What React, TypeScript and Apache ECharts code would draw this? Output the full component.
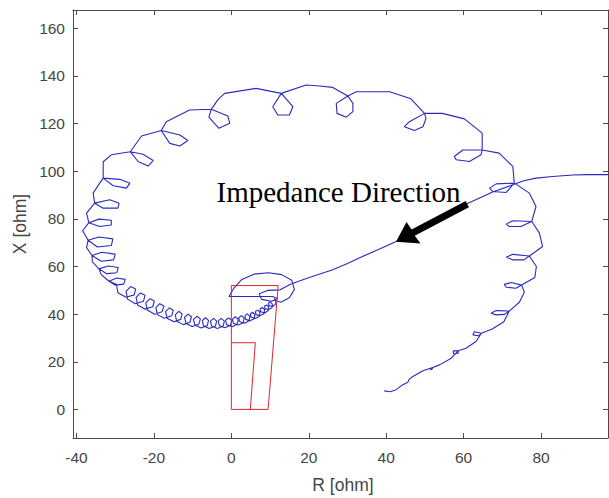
import React, { useEffect, useRef } from "react";
import * as echarts from "echarts";

// Tick positions on the resistance (R) and reactance (X) axes
const rTickValues = [-40, -20, 0, 20, 40, 60, 80];
const xTickValues = [0, 20, 40, 60, 80, 100, 120, 140, 160];

// Impedance locus [R, X] in ohm, split into stretches of the trajectory
const entryPath: number[][] = [
  [97.4, 98.6], [92.0, 98.6], [88.2, 98.4], [83.0, 97.8], [78.7, 97.1], [75.5, 96.0],
  [72.7, 94.3], [67.5, 91.3], [61.3, 86.7], [56.0, 82.4], [51.5, 78.5], [46.8, 74.4],
  [42.6, 70.5], [38.0, 67.1], [34.0, 64.3], [30.0, 61.3], [26.2, 58.6], [20.5, 55.6],
  [15.4, 52.7],
];

const coreSwirl: number[][] = [
  [12.6, 50.2], [9.5, 50.0], [7.2, 48.6], [7.8, 46.2], [10.4, 45.4], [12.0, 46.6],
  [10.6, 47.4], [-0.6, 47.4], [0.6, 50.8], [2.6, 54.4], [5.8, 56.8], [9.6, 57.4],
  [13.0, 56.6], [15.6, 54.2], [16.3, 50.4], [15.0, 46.9], [12.8, 45.0], [11.4, 45.6],
];

const innerCoil: number[][] = [
  [11.0, 46.5], [11.6, 45.6], [11.4, 44.1], [10.6, 43.2], [9.7, 43.6], [9.6, 44.7],
  [10.1, 45.1], [10.6, 44.2], [10.5, 42.7], [9.6, 41.9], [8.7, 42.3], [8.6, 43.4],
  [9.1, 43.9], [9.7, 43.0], [9.5, 41.4], [8.6, 40.5], [7.6, 41.0], [7.4, 42.2],
  [8.0, 42.8], [8.6, 41.9], [8.4, 40.2], [7.4, 39.3], [6.4, 39.8], [6.2, 41.1],
  [6.8, 41.7], [7.4, 40.8], [7.2, 39.1], [6.2, 38.2], [5.1, 38.8], [4.9, 40.1],
  [5.5, 40.8], [6.1, 39.9], [5.9, 38.1], [4.8, 37.2], [3.7, 37.8], [3.5, 39.3],
  [4.1, 40.1], [4.8, 39.1], [4.6, 37.2], [3.4, 36.2], [2.1, 36.9], [1.9, 38.5],
  [2.6, 39.4], [3.3, 38.3], [3.1, 36.4], [1.8, 35.4], [0.5, 36.2], [0.3, 37.9],
  [1.0, 38.9], [1.8, 37.8], [1.5, 35.8], [0.2, 34.7], [-1.2, 35.6], [-1.5, 37.5],
  [-0.7, 38.4], [0.1, 37.4], [-0.2, 35.3], [-1.7, 34.3], [-3.1, 35.2], [-3.4, 37.2],
  [-2.6, 38.2], [-1.8, 37.1], [-2.1, 35.0], [-3.6, 34.0], [-5.1, 35.0], [-5.4, 37.1],
  [-4.6, 38.2], [-3.8, 37.1], [-4.1, 35.0], [-5.7, 34.0], [-7.2, 35.1], [-7.5, 37.3],
  [-6.7, 38.5], [-5.9, 37.4], [-6.2, 35.2], [-7.8, 34.2], [-9.4, 35.4], [-9.8, 37.8],
  [-8.9, 39.1], [-8.0, 38.0], [-8.4, 35.8], [-10.1, 34.8], [-11.7, 36.1], [-12.1, 38.6],
  [-11.2, 40.0], [-10.3, 38.9], [-10.7, 36.6], [-12.4, 35.6], [-14.1, 37.0], [-14.5, 39.7],
  [-13.6, 41.2], [-12.7, 40.1], [-13.1, 37.8], [-14.8, 36.8], [-16.6, 38.3], [-17.0, 41.1],
  [-16.0, 42.6], [-15.0, 41.6], [-15.4, 39.3], [-17.3, 38.3], [-19.1, 39.8], [-19.5, 42.7],
  [-18.5, 44.4], [-17.4, 43.4], [-17.9, 41.0], [-19.8, 40.0], [-21.7, 41.7], [-22.1, 44.7],
  [-21.0, 46.5], [-19.9, 45.5], [-20.3, 43.1], [-22.3, 42.1], [-24.2, 43.8], [-24.6, 47.0],
  [-23.5, 48.9], [-22.3, 47.9], [-22.7, 45.4], [-24.8, 44.4], [-26.8, 46.3], [-27.2, 49.6],
  [-26.0, 51.6], [-24.7, 50.6], [-25.1, 48.1], [-27.2, 47.1], [-29.3, 49.0], [-29.7, 52.5],
];

const leftArc: number[][] = [
  [-31.6, 53.8], [-29.6, 55.2], [-27.4, 54.6], [-27.8, 52.6], [-30.0, 52.2], [-31.6, 53.8], [-33.6, 56.6],
  [-34.2, 59.0], [-31.8, 60.2], [-29.2, 59.6], [-29.6, 57.4], [-32.2, 57.0], [-34.2, 59.0], [-35.9, 62.0],
  [-36.0, 64.6], [-33.4, 66.0], [-30.0, 65.2], [-30.4, 62.8], [-33.6, 62.2], [-36.0, 64.6], [-37.4, 68.0],
  [-37.0, 71.0], [-34.2, 72.4], [-30.6, 71.6], [-31.0, 68.8], [-34.6, 68.2], [-37.0, 71.0], [-38.4, 75.0],
  [-36.8, 78.4], [-34.2, 79.9], [-31.0, 79.4], [-31.0, 77.4], [-34.0, 76.8], [-36.8, 78.4], [-37.4, 82.4],
  [-35.3, 86.6], [-31.4, 88.0], [-29.0, 86.6], [-29.3, 84.5], [-33.1, 84.5], [-35.3, 86.6], [-35.7, 90.8],
  [-34.0, 95.0], [-33.1, 97.1], [-28.8, 96.6], [-26.2, 95.0], [-27.1, 92.9], [-30.5, 93.9], [-33.1, 97.1],
  [-33.1, 104.0], [-31.0, 106.9],
  [-26.1, 108.2], [-22.8, 107.1], [-20.2, 104.5], [-21.5, 102.2], [-24.1, 104.1], [-26.1, 108.2], [-23.2, 114.8],
  [-18.1, 117.1], [-13.3, 115.2], [-11.2, 112.9], [-13.3, 110.6], [-15.9, 111.7], [-18.1, 117.1],
  [-16.8, 120.8], [-10.8, 125.7],
  [-5.2, 126.0], [-0.9, 123.2], [-0.4, 120.1], [-3.2, 118.0], [-5.8, 122.7], [-5.2, 126.0],
  [-3.4, 130.2], [-1.7, 132.7], [6.4, 134.8],
];

const topArc: number[][] = [
  [12.9, 132.7], [15.9, 127.1], [15.0, 123.6], [12.0, 123.6], [10.7, 127.1], [12.9, 132.7],
  [19.3, 136.2], [22.8, 135.8], [26.2, 135.2],
  [30.1, 131.6], [31.4, 128.5], [31.4, 125.0], [29.7, 122.7], [27.3, 124.3], [27.1, 128.5], [30.1, 131.6],
  [32.3, 133.4], [40.9, 133.4], [46.4, 130.4],
  [49.9, 124.3], [50.3, 122.2], [49.5, 118.7], [47.3, 117.1], [44.7, 118.7], [46.0, 120.8], [49.9, 124.3],
  [54.5, 124.3], [60.2, 122.0], [64.8, 116.0],
  [64.8, 108.9], [64.5, 106.9], [61.5, 104.1], [58.1, 104.8], [57.6, 106.2], [59.8, 108.9], [64.8, 108.9],
  [69.2, 107.6], [72.7, 102.0],
];

const rightArc: number[][] = [
  [73.1, 95.0], [71.0, 91.1], [67.5, 91.5], [66.7, 92.9], [68.4, 94.7], [73.1, 95.0],
  [77.0, 90.8], [78.7, 85.2],
  [77.6, 78.9], [74.8, 76.8], [71.8, 76.8], [71.0, 77.8], [72.7, 79.2], [77.6, 78.9],
  [79.6, 74.0], [80.4, 68.4],
  [77.0, 64.4], [75.6, 62.8], [72.7, 62.8], [71.0, 63.9], [72.7, 65.1], [77.0, 64.4],
  [78.8, 60.0], [78.4, 55.4],
  [75.0, 52.2], [73.5, 50.9], [71.0, 51.3], [70.5, 52.5], [72.3, 53.3], [75.0, 52.2],
  [75.7, 49.2], [74.4, 45.0],
  [71.8, 41.3], [70.6, 39.9], [68.4, 39.7], [67.1, 40.4], [68.4, 41.5], [71.8, 41.3],
  [70.4, 36.8], [67.4, 33.8],
];

const tailArc: number[][] = [
  [64.6, 32.0], [63.9, 30.9], [62.4, 31.3], [62.8, 32.6], [64.6, 32.0],
  [63.2, 28.5], [60.6, 25.7],
  [58.6, 24.6], [58.6, 23.6], [57.4, 23.4], [57.3, 24.6], [58.6, 24.6],
  [56.8, 21.5], [53.8, 18.7],
  [52.0, 17.6], [51.8, 16.7], [51.3, 17.1], [52.0, 17.6],
  [49.5, 16.2], [46.9, 13.8], [45.9, 12.6], [45.6, 11.4], [44.3, 10.4],
  [42.6, 8.3], [41.0, 7.4], [39.5, 7.8],
];

// Relay zone characteristic (quadrilateral) and its inner step
const zoneOuter: number[][] = [[0, 0], [9.5, 0], [12.1, 52], [0, 52], [0, 0]];
const zoneInner: number[][] = [[0, 28], [6.2, 28], [4.9, 0]];

const trajectory = [
  ...entryPath, ...coreSwirl, ...innerCoil, ...leftArc, ...topArc, ...rightArc, ...tailArc,
];

const AXIS_COLOR = "#4a4a4a";
const LABEL_COLOR = "#454545";
const SANS = '"Liberation Sans", Arial, Helvetica, sans-serif';

const R_MIN = -40.9;
const R_MAX = 97.3;
const X_MIN = -12;
const X_MAX = 167.7;

function boxAxis(min: number, max: number, ticks: number[], position: string, labels: boolean, margin: number) {
  return {
    type: "value",
    min,
    max,
    position,
    axisLine: { show: true, onZero: false, lineStyle: { color: AXIS_COLOR, width: 1 } },
    axisTick: {
      show: true,
      inside: true,
      length: 5,
      customValues: ticks,
      lineStyle: { color: AXIS_COLOR, width: 1 },
    },
    axisLabel: {
      show: labels,
      customValues: ticks,
      color: LABEL_COLOR,
      fontSize: 15.5,
      fontFamily: SANS,
      margin,
    },
    splitLine: { show: false },
  };
}

export default function App() {
  const ref = useRef<HTMLDivElement>(null);

  useEffect(() => {
    if (!ref.current) return;
    const chart = echarts.init(ref.current, null, { renderer: "svg" });
    const option: any = {
      animation: false,
      backgroundColor: "#ffffff",
      grid: { left: 73, right: 1, top: 10, bottom: 60, containLabel: false },
      xAxis: [
        boxAxis(R_MIN, R_MAX, rTickValues, "bottom", true, 11),
        boxAxis(R_MIN, R_MAX, rTickValues, "top", false, 8),
      ],
      yAxis: [
        boxAxis(X_MIN, X_MAX, xTickValues, "left", true, 8),
        boxAxis(X_MIN, X_MAX, xTickValues, "right", false, 8),
      ],
      series: [
        {
          name: "Impedance",
          type: "line",
          data: trajectory,
          showSymbol: false,
          symbol: "none",
          smooth: false,
          clip: true,
          silent: true,
          lineStyle: { color: "#2a2abf", width: 1.1 },
          z: 2,
        },
        {
          name: "Zone",
          type: "line",
          data: zoneOuter,
          showSymbol: false,
          symbol: "none",
          silent: true,
          lineStyle: { color: "#e0262e", width: 1 },
          z: 3,
        },
        {
          name: "Zone step",
          type: "line",
          data: zoneInner,
          showSymbol: false,
          symbol: "none",
          silent: true,
          lineStyle: { color: "#e0262e", width: 1 },
          z: 3,
        },
      ],
      graphic: [
        {
          type: "text",
          z: 100,
          style: {
            text: "Impedance Direction",
            x: 216.5,
            y: 192,
            fontSize: 29,
            fontFamily: '"Liberation Serif", "Times New Roman", serif',
            fill: "#000000",
            textAlign: "left",
            textVerticalAlign: "middle",
          },
        },
        {
          type: "polygon",
          z: 100,
          shape: {
            points: [
              [465.7, 201.1], [411.6, 229.6], [406.5, 222.0], [396.0, 241.7],
              [420.5, 243.5], [414.8, 235.8], [468.9, 207.3],
            ],
          },
          style: { fill: "#000000" },
        },
        {
          type: "text",
          z: 100,
          style: {
            text: "R [ohm]",
            x: 343,
            y: 485,
            fontSize: 17.5,
            fontFamily: SANS,
            fill: LABEL_COLOR,
            textAlign: "center",
            textVerticalAlign: "middle",
          },
        },
        {
          type: "text",
          z: 100,
          x: 20,
          y: 224,
          rotation: Math.PI / 2,
          style: {
            text: "X [ohm]",
            x: 0,
            y: 0,
            fontSize: 17.5,
            fontFamily: SANS,
            fill: LABEL_COLOR,
            textAlign: "center",
            textVerticalAlign: "middle",
          },
        },
      ],
    };
    chart.setOption(option);
    return () => chart.dispose();
  }, []);

  return (
    <div
      ref={ref}
      style={{ position: "absolute", left: 0, top: 0, width: 609, height: 498, background: "#ffffff" }}
    />
  );
}
